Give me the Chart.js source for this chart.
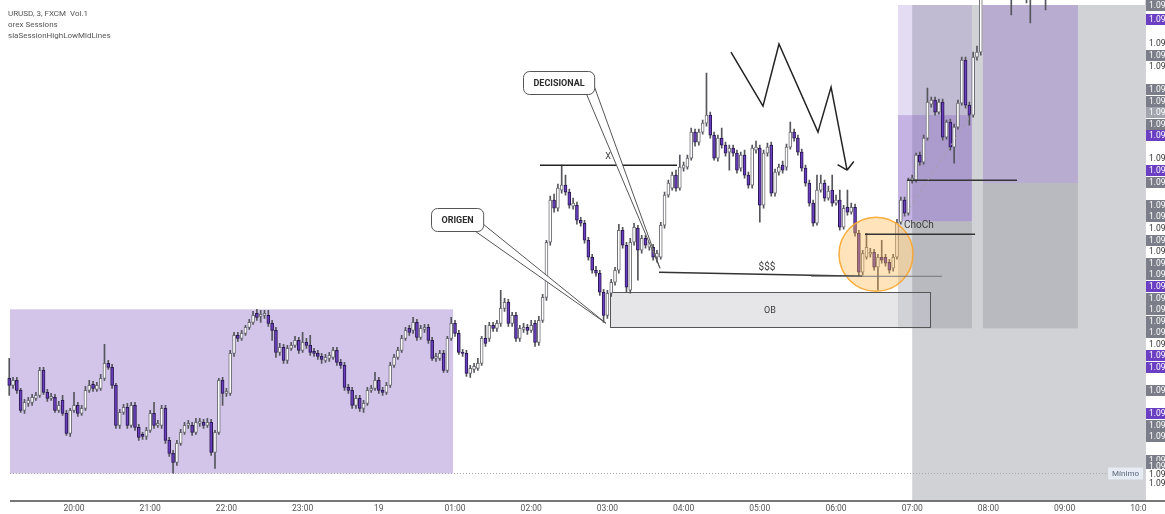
<!DOCTYPE html>
<html lang="es">
<head>
<meta charset="UTF-8">
<title>EURUSD 3m - sesiones</title>
<script src="https://cdn.jsdelivr.net/npm/chart.js@4.4.1/dist/chart.umd.min.js"></script>
<style>
  html, body { margin: 0; padding: 0; background: #fff; }
</style>
</head>
<body>
<canvas id="chart" width="1165" height="514"></canvas>
<script>
// 3 minute candles, time = minutes after 19:00 of the 18th
var interval = 3;
var firstCandle = 9;

// [open, high, low, close]
var candles = [
[1.09222,1.09242,1.09205,1.09215],[1.09215,1.09223,1.09212,1.09220],[1.09220,1.09223,1.09207,1.09210],[1.09210,1.09212,1.09188,1.09190],
[1.09190,1.09201,1.09187,1.09198],[1.09197,1.09203,1.09194,1.09200],[1.09198,1.09206,1.09195,1.09203],[1.09202,1.09208,1.09200,1.09205],
[1.09205,1.09233,1.09203,1.09230],[1.09230,1.09233,1.09206,1.09208],[1.09208,1.09211,1.09199,1.09202],[1.09202,1.09207,1.09200,1.09204],
[1.09203,1.09206,1.09188,1.09190],[1.09190,1.09199,1.09188,1.09195],[1.09200,1.09205,1.09185,1.09187],[1.09187,1.09190,1.09165,1.09167],
[1.09167,1.09192,1.09164,1.09190],[1.09190,1.09208,1.09188,1.09195],[1.09195,1.09198,1.09184,1.09187],[1.09187,1.09195,1.09185,1.09192],
[1.09192,1.09214,1.09190,1.09210],[1.09210,1.09220,1.09208,1.09215],[1.09216,1.09219,1.09209,1.09212],[1.09211,1.09218,1.09209,1.09215],
[1.09212,1.09226,1.09210,1.09222],[1.09222,1.09256,1.09220,1.09237],[1.09237,1.09240,1.09231,1.09233],[1.09233,1.09236,1.09212,1.09215],
[1.09215,1.09217,1.09172,1.09175],[1.09175,1.09191,1.09172,1.09188],[1.09188,1.09196,1.09186,1.09193],[1.09193,1.09197,1.09172,1.09175],
[1.09175,1.09198,1.09173,1.09195],[1.09195,1.09198,1.09170,1.09173],[1.09173,1.09176,1.09160,1.09163],[1.09166,1.09168,1.09161,1.09164],
[1.09164,1.09173,1.09161,1.09170],[1.09170,1.09190,1.09168,1.09187],[1.09187,1.09198,1.09172,1.09175],[1.09175,1.09180,1.09173,1.09177],
[1.09175,1.09195,1.09172,1.09192],[1.09192,1.09195,1.09157,1.09160],[1.09160,1.09163,1.09144,1.09147],[1.09147,1.09150,1.09127,1.09138],
[1.09138,1.09160,1.09135,1.09157],[1.09157,1.09171,1.09155,1.09168],[1.09168,1.09178,1.09166,1.09175],[1.09175,1.09180,1.09172,1.09177],
[1.09175,1.09178,1.09165,1.09168],[1.09168,1.09182,1.09166,1.09178],[1.09177,1.09182,1.09174,1.09179],[1.09178,1.09181,1.09172,1.09175],
[1.09175,1.09182,1.09173,1.09178],[1.09178,1.09181,1.09145,1.09148],[1.09148,1.09170,1.09132,1.09168],[1.09168,1.09222,1.09166,1.09220],
[1.09220,1.09223,1.09195,1.09207],[1.09207,1.09212,1.09204,1.09209],[1.09207,1.09250,1.09205,1.09247],[1.09247,1.09268,1.09244,1.09265],
[1.09265,1.09268,1.09259,1.09262],[1.09262,1.09270,1.09260,1.09267],[1.09267,1.09275,1.09265,1.09273],[1.09273,1.09281,1.09271,1.09278],
[1.09278,1.09289,1.09276,1.09285],[1.09287,1.09291,1.09280,1.09283],[1.09284,1.09290,1.09278,1.09286],[1.09285,1.09290,1.09282,1.09287],
[1.09285,1.09290,1.09274,1.09277],[1.09277,1.09280,1.09260,1.09270],[1.09270,1.09273,1.09243,1.09248],[1.09248,1.09257,1.09245,1.09253],
[1.09253,1.09256,1.09237,1.09240],[1.09240,1.09255,1.09237,1.09252],[1.09252,1.09258,1.09250,1.09255],[1.09255,1.09264,1.09253,1.09260],
[1.09260,1.09263,1.09247,1.09250],[1.09250,1.09268,1.09248,1.09258],[1.09258,1.09262,1.09252,1.09255],[1.09255,1.09265,1.09245,1.09248],
[1.09249,1.09252,1.09244,1.09247],[1.09247,1.09250,1.09241,1.09244],[1.09244,1.09247,1.09237,1.09241],[1.09240,1.09246,1.09238,1.09243],
[1.09242,1.09248,1.09239,1.09245],[1.09243,1.09253,1.09241,1.09250],[1.09250,1.09253,1.09235,1.09238],[1.09238,1.09241,1.09232,1.09235],
[1.09235,1.09238,1.09210,1.09213],[1.09213,1.09216,1.09207,1.09210],[1.09210,1.09213,1.09192,1.09195],[1.09195,1.09205,1.09192,1.09202],
[1.09202,1.09205,1.09189,1.09192],[1.09192,1.09200,1.09188,1.09197],[1.09197,1.09213,1.09195,1.09210],[1.09210,1.09215,1.09208,1.09212],
[1.09212,1.09228,1.09210,1.09220],[1.09220,1.09223,1.09207,1.09210],[1.09210,1.09213,1.09205,1.09208],[1.09208,1.09218,1.09206,1.09215],
[1.09215,1.09238,1.09213,1.09235],[1.09235,1.09246,1.09233,1.09243],[1.09243,1.09253,1.09241,1.09250],[1.09250,1.09265,1.09248,1.09262],
[1.09262,1.09273,1.09260,1.09270],[1.09272,1.09275,1.09265,1.09268],[1.09270,1.09283,1.09267,1.09278],[1.09278,1.09281,1.09260,1.09263],
[1.09263,1.09275,1.09261,1.09272],[1.09271,1.09276,1.09268,1.09273],[1.09273,1.09276,1.09257,1.09260],[1.09260,1.09263,1.09240,1.09242],
[1.09242,1.09247,1.09239,1.09244],[1.09242,1.09250,1.09240,1.09247],[1.09247,1.09250,1.09228,1.09230],[1.09230,1.09264,1.09228,1.09262],
[1.09262,1.09283,1.09260,1.09277],[1.09277,1.09280,1.09264,1.09267],[1.09267,1.09270,1.09246,1.09248],[1.09248,1.09251,1.09244,1.09247],
[1.09247,1.09250,1.09224,1.09227],[1.09227,1.09235,1.09223,1.09232],[1.09231,1.09237,1.09228,1.09234],[1.09232,1.09242,1.09230,1.09237],
[1.09237,1.09264,1.09235,1.09262],[1.09262,1.09275,1.09254,1.09257],[1.09262,1.09278,1.09259,1.09275],[1.09275,1.09278,1.09269,1.09272],
[1.09272,1.09280,1.09269,1.09277],[1.09277,1.09310,1.09274,1.09292],[1.09292,1.09302,1.09289,1.09298],[1.09298,1.09301,1.09274,1.09277],
[1.09277,1.09288,1.09274,1.09285],[1.09285,1.09288,1.09259,1.09262],[1.09262,1.09275,1.09259,1.09272],[1.09271,1.09277,1.09268,1.09273],
[1.09273,1.09276,1.09266,1.09270],[1.09270,1.09280,1.09268,1.09275],[1.09277,1.09280,1.09254,1.09258],[1.09258,1.09284,1.09255,1.09280],
[1.09280,1.09306,1.09278,1.09303],[1.09303,1.09360,1.09300,1.09358],[1.09358,1.09404,1.09355,1.09400],[1.09400,1.09406,1.09388,1.09392],
[1.09392,1.09416,1.09389,1.09412],[1.09410,1.09435,1.09407,1.09415],[1.09415,1.09425,1.09405,1.09408],[1.09408,1.09411,1.09392,1.09395],
[1.09394,1.09402,1.09391,1.09397],[1.09395,1.09398,1.09376,1.09380],[1.09380,1.09383,1.09374,1.09377],[1.09377,1.09380,1.09357,1.09360],
[1.09360,1.09363,1.09340,1.09343],[1.09343,1.09346,1.09327,1.09330],[1.09330,1.09334,1.09324,1.09327],[1.09327,1.09330,1.09305,1.09308],
[1.09308,1.09311,1.09278,1.09285],[1.09285,1.09310,1.09282,1.09307],[1.09307,1.09321,1.09304,1.09318],[1.09318,1.09333,1.09315,1.09330],
[1.09330,1.09376,1.09327,1.09370],[1.09370,1.09373,1.09352,1.09355],[1.09355,1.09358,1.09308,1.09313],[1.09310,1.09362,1.09307,1.09358],
[1.09358,1.09377,1.09355,1.09373],[1.09372,1.09375,1.09320,1.09350],[1.09350,1.09365,1.09347,1.09362],[1.09362,1.09365,1.09352,1.09355],
[1.09353,1.09361,1.09350,1.09358],[1.09353,1.09356,1.09340,1.09343],[1.09343,1.09350,1.09338,1.09347],[1.09343,1.09378,1.09341,1.09375],
[1.09375,1.09408,1.09372,1.09405],[1.09405,1.09420,1.09403,1.09417],[1.09412,1.09428,1.09410,1.09425],[1.09425,1.09430,1.09409,1.09412],
[1.09412,1.09445,1.09410,1.09433],[1.09432,1.09438,1.09429,1.09435],[1.09433,1.09445,1.09431,1.09442],[1.09442,1.09472,1.09440,1.09468],
[1.09468,1.09471,1.09454,1.09458],[1.09458,1.09471,1.09455,1.09468],[1.09468,1.09480,1.09466,1.09477],[1.09477,1.09527,1.09474,1.09485],
[1.09485,1.09488,1.09462,1.09465],[1.09465,1.09468,1.09440,1.09442],[1.09442,1.09465,1.09439,1.09462],[1.09462,1.09472,1.09452,1.09455],
[1.09455,1.09458,1.09444,1.09447],[1.09448,1.09455,1.09430,1.09452],[1.09452,1.09455,1.09444,1.09447],[1.09447,1.09450,1.09427,1.09430],
[1.09432,1.09448,1.09429,1.09445],[1.09445,1.09450,1.09422,1.09425],[1.09425,1.09428,1.09412,1.09415],[1.09415,1.09455,1.09412,1.09452],
[1.09450,1.09459,1.09447,1.09453],[1.09452,1.09455,1.09378,1.09395],[1.09395,1.09450,1.09392,1.09447],[1.09447,1.09457,1.09444,1.09453],
[1.09455,1.09458,1.09404,1.09407],[1.09407,1.09431,1.09404,1.09428],[1.09428,1.09436,1.09425,1.09433],[1.09435,1.09439,1.09427,1.09430],
[1.09433,1.09456,1.09430,1.09453],[1.09453,1.09478,1.09451,1.09468],[1.09468,1.09471,1.09459,1.09462],[1.09462,1.09465,1.09445,1.09448],
[1.09448,1.09451,1.09429,1.09432],[1.09432,1.09435,1.09414,1.09417],[1.09417,1.09420,1.09394,1.09397],[1.09397,1.09400,1.09374,1.09377],
[1.09377,1.09425,1.09375,1.09410],[1.09410,1.09425,1.09408,1.09417],[1.09417,1.09420,1.09399,1.09402],[1.09402,1.09414,1.09400,1.09409],
[1.09410,1.09425,1.09394,1.09397],[1.09397,1.09405,1.09395,1.09400],[1.09400,1.09410,1.09370,1.09373],[1.09373,1.09395,1.09371,1.09392],
[1.09393,1.09410,1.09385,1.09388],[1.09388,1.09397,1.09386,1.09393],[1.09393,1.09396,1.09364,1.09367],[1.09367,1.09370,1.09324,1.09328],
[1.09328,1.09350,1.09325,1.09347],[1.09343,1.09367,1.09341,1.09353],[1.09346,1.09352,1.09343,1.09348],[1.09348,1.09351,1.09330,1.09333],
[1.09333,1.09346,1.09310,1.09343],[1.09343,1.09360,1.09337,1.09340],[1.09343,1.09346,1.09334,1.09337],[1.09338,1.09341,1.09327,1.09330],
[1.09332,1.09346,1.09329,1.09343],[1.09343,1.09381,1.09341,1.09378],[1.09378,1.09403,1.09376,1.09400],[1.09400,1.09403,1.09384,1.09387],
[1.09387,1.09422,1.09385,1.09420],[1.09419,1.09425,1.09417,1.09422],[1.09420,1.09447,1.09418,1.09445],[1.09445,1.09448,1.09435,1.09438],
[1.09438,1.09465,1.09436,1.09462],[1.09462,1.09512,1.09460,1.09498],[1.09496,1.09503,1.09493,1.09500],[1.09500,1.09503,1.09485,1.09488],
[1.09488,1.09501,1.09486,1.09498],[1.09498,1.09501,1.09460,1.09463],[1.09463,1.09480,1.09461,1.09478],[1.09478,1.09481,1.09450,1.09453],
[1.09453,1.09476,1.09437,1.09473],[1.09473,1.09500,1.09471,1.09497],[1.09497,1.09543,1.09495,1.09540],[1.09540,1.09543,1.09492,1.09495],
[1.09495,1.09498,1.09475,1.09485],[1.09485,1.09548,1.09483,1.09543],[1.09543,1.09554,1.09540,1.09548],[1.09548,1.09625,1.09545,1.09620],
[1.09620,1.09650,1.09618,1.09645],[1.09645,1.09670,1.09642,1.09665],[1.09665,1.09672,1.09640,1.09648],[1.09648,1.09680,1.09645,1.09675],
[1.09675,1.09682,1.09652,1.09655],[1.09655,1.09690,1.09650,1.09685],[1.09685,1.09692,1.09655,1.09660],[1.09660,1.09665,1.09585,1.09620],
[1.09620,1.09660,1.09615,1.09655],[1.09655,1.09680,1.09650,1.09675],[1.09675,1.09678,1.09645,1.09650],[1.09650,1.09670,1.09597,1.09665],
[1.09665,1.09670,1.09577,1.09625],[1.09625,1.09660,1.09620,1.09655],[1.09655,1.09685,1.09650,1.09680],[1.09680,1.09685,1.09645,1.09650],
[1.09650,1.09655,1.09590,1.09620]
];

var hourTicks = [60, 120, 180, 240, 300, 360, 420, 480, 540, 600, 660, 720, 780, 840, 900];
var hourLabels = ['20:00', '21:00', '22:00', '23:00', '19', '01:00', '02:00', '03:00', '04:00', '05:00', '06:00', '07:00', '08:00', '09:00', '10:00'];

// price scale tags on the right edge (p = purple, g = gray, l = light gray, w = white)
var tagPrices = [1.09595, 1.09581, 1.09557, 1.09545, 1.09534, 1.09511, 1.09499, 1.09488, 1.09476, 1.09465,
                 1.09442, 1.09430, 1.09418, 1.09395, 1.09384, 1.09372, 1.09360, 1.09349, 1.09337, 1.09326,
                 1.09314, 1.09302, 1.09291, 1.09279, 1.09268, 1.09256, 1.09245, 1.09233, 1.09210, 1.09187,
                 1.09175, 1.09164, 1.09140, 1.09134, 1.09126, 1.09117];
var tagKinds = ['g','p','w','g','w','g','g','l','g','p',
                'w','p','g','g','g','w','g','w','g','g',
                'p','g','g','g','g','w','p','p','g','p',
                'g','g','g','g','w','w'];

// Asia session window (19:00 - 01:00)
var sessionWindow = [0, 360];

// drawings, in chart units (minutes, price)
var zones = [
  { t0: 720,   t1: null,  lo: null,    hi: 1.09595, kind: 'gray' },
  { t0: 708.8, t1: 767,   lo: 1.09485, hi: 1.09595, kind: 'lilac' },
  { t0: 708.8, t1: 767,   lo: 1.09379, hi: 1.09485, kind: 'violet' },
  { t0: 708.8, t1: 767,   lo: 1.09272, hi: 1.09379, kind: 'dark' },
  { t0: 775.7, t1: 850.5, lo: 1.09417, hi: 1.09595, kind: 'purple' },
  { t0: 775.7, t1: 850.5, lo: 1.09272, hi: 1.09417, kind: 'dark' }
];
var orderBlock = { t0: 482, t1: 734, lo: 1.09273, hi: 1.09308 };
var levels = [
  { t0: 426.9, p0: 1.09435, t1: 534.8, p1: 1.09435, c: '#222', w: 1.5 },
  { t0: 520.6, p0: 1.09328, t1: 680.5, p1: 1.09324, c: '#333', w: 1.5 },
  { t0: 640.3, p0: 1.09324, t1: 743.5, p1: 1.09324, c: '#777', w: 1 },
  { t0: 682.8, p0: 1.09366, t1: 769.5, p1: 1.09366, c: '#333', w: 1.5 },
  { t0: 715.9, p0: 1.09420, t1: 802.5, p1: 1.09420, c: '#333', w: 1.5 }
];
var dashedLeg = [[714.3, 1.09385], [767.1, 1.09487]];
var zigzag = [[577.3, 1.09548], [602.5, 1.09494], [615.1, 1.09556], [645.8, 1.09468], [656.1, 1.09513], [668.7, 1.09430]];
var focus = [691.5, 1.09346];
var labels = [
  { text: 'X',     t: 480.5, p: 1.09443, size: 9,  align: 'center' },
  { text: '$$$',   t: 605.7, p: 1.09333, size: 10, align: 'center' },
  { text: 'OB',    t: 608,   p: 1.09290, size: 9,  align: 'center' },
  { text: 'ChoCh', t: 713.5, p: 1.09375, size: 10, align: 'left' }
];
var callouts = [
  { text: 'ORIGEN',     tip: [478.9, 1.09277], at: [362.0, 1.093805] },
  { text: 'DECISIONAL', tip: [521.4, 1.09332], at: [441.9, 1.095175] }
];

var candleTimes = candles.map(function (c, i) { return firstCandle + i * interval; });
var isUp = candles.map(function (c) { return c[3] >= c[0]; });

function roundRect(ctx, x, y, w, h, r) {
  ctx.beginPath();
  ctx.moveTo(x + r, y);
  ctx.arcTo(x + w, y, x + w, y + h, r);
  ctx.arcTo(x + w, y + h, x, y + h, r);
  ctx.arcTo(x, y + h, x, y, r);
  ctx.arcTo(x, y, x + w, y, r);
  ctx.closePath();
}

var drawings = {
  id: 'drawings',
  beforeDatasetsDraw: function (chart) {
    var ctx = chart.ctx, area = chart.chartArea;
    var X = function (t) { return chart.scales.x.getPixelForValue(t); };
    var Y = function (p) { return chart.scales.y.getPixelForValue(p); };
    ctx.save();

    // session high / low box
    var hi = -Infinity, lo = Infinity, last = 0;
    candles.forEach(function (c, i) {
      var t = candleTimes[i];
      if (t >= sessionWindow[0] && t < sessionWindow[1]) {
        hi = Math.max(hi, c[1]); lo = Math.min(lo, c[2]); last = t;
      }
    });
    chart.$sessionLow = lo;
    ctx.fillStyle = 'rgba(149,117,205,0.42)';
    ctx.fillRect(area.left, Y(hi), X(last + interval / 2) - area.left, Y(lo) - Y(hi));

    var fills = {
      gray: 'rgba(120,123,134,0.34)',
      lilac: 'rgba(149,117,205,0.25)',
      violet: 'rgba(126,87,194,0.45)',
      purple: 'rgba(126,87,194,0.30)',
      dark: 'rgba(120,123,134,0.27)'
    };
    zones.forEach(function (z) {
      var x0 = X(z.t0), x1 = z.t1 === null ? area.right : X(z.t1);
      var y0 = Y(z.hi), y1 = z.lo === null ? area.bottom : Y(z.lo);
      ctx.fillStyle = fills[z.kind];
      ctx.fillRect(x0, y0, x1 - x0, y1 - y0);
    });

    // order block
    var bx = Math.round(X(orderBlock.t0)) + 0.5, by = Math.round(Y(orderBlock.hi)) + 0.5;
    var bw = Math.round(X(orderBlock.t1) - X(orderBlock.t0)), bh = Math.round(Y(orderBlock.lo) - Y(orderBlock.hi));
    ctx.fillStyle = 'rgba(200,200,206,0.45)';
    ctx.fillRect(bx, by, bw, bh);
    ctx.strokeStyle = '#555';
    ctx.lineWidth = 1;
    ctx.strokeRect(bx, by, bw, bh);
    ctx.restore();
  },

  afterDatasetsDraw: function (chart) {
    var ctx = chart.ctx, area = chart.chartArea;
    var X = function (t) { return chart.scales.x.getPixelForValue(t); };
    var Y = function (p) { return chart.scales.y.getPixelForValue(p); };
    ctx.save();

    // orange circle
    ctx.beginPath();
    ctx.arc(X(focus[0]), Y(focus[1]), 37, 0, Math.PI * 2);
    ctx.fillStyle = 'rgba(255,183,77,0.38)';
    ctx.fill();
    ctx.strokeStyle = 'rgba(250,165,45,0.9)';
    ctx.lineWidth = 1.5;
    ctx.stroke();

    // horizontal levels
    levels.forEach(function (l) {
      ctx.beginPath();
      ctx.moveTo(X(l.t0), Y(l.p0));
      ctx.lineTo(X(l.t1), Y(l.p1));
      ctx.strokeStyle = l.c;
      ctx.lineWidth = l.w;
      ctx.stroke();
    });

    ctx.beginPath();
    ctx.setLineDash([4, 3]);
    ctx.moveTo(X(dashedLeg[0][0]), Y(dashedLeg[0][1]));
    ctx.lineTo(X(dashedLeg[1][0]), Y(dashedLeg[1][1]));
    ctx.strokeStyle = '#a0a0a8';
    ctx.lineWidth = 1;
    ctx.stroke();
    ctx.setLineDash([]);

    // session low (Minimo) dotted line
    var ly = Math.round(Y(chart.$sessionLow)) + 0.5;
    ctx.beginPath();
    ctx.setLineDash([1, 2]);
    ctx.moveTo(area.left, ly);
    ctx.lineTo(area.right - 34, ly);
    ctx.strokeStyle = '#a8a8a8';
    ctx.stroke();
    ctx.setLineDash([]);
    ctx.font = '8px Roboto';
    var mw = ctx.measureText('Mínimo').width + 8;
    ctx.fillStyle = '#e6ecf4';
    ctx.fillRect(area.right - mw - 2, ly - 6, mw, 12);
    ctx.fillStyle = '#5b6678';
    ctx.textAlign = 'left';
    ctx.textBaseline = 'middle';
    ctx.fillText('Mínimo', area.right - mw + 2, ly);

    // hand drawn zigzag with arrow
    var pts = zigzag.map(function (p) { return [X(p[0]), Y(p[1])]; });
    ctx.beginPath();
    pts.forEach(function (p, i) { if (i) ctx.lineTo(p[0], p[1]); else ctx.moveTo(p[0], p[1]); });
    var tip = pts[pts.length - 1], prev = pts[pts.length - 2];
    var ang = Math.atan2(tip[1] - prev[1], tip[0] - prev[0]);
    [-1, 1].forEach(function (s) {
      ctx.moveTo(tip[0], tip[1]);
      ctx.lineTo(tip[0] - 11 * Math.cos(ang + s * 0.85), tip[1] - 11 * Math.sin(ang + s * 0.85));
    });
    ctx.strokeStyle = '#222';
    ctx.lineWidth = 1.5;
    ctx.stroke();

    // text labels
    labels.forEach(function (l) {
      ctx.font = l.size + 'px Roboto';
      ctx.fillStyle = '#3a3a3a';
      ctx.textAlign = l.align;
      ctx.textBaseline = 'middle';
      ctx.fillText(l.text, X(l.t), Y(l.p));
    });

    // callouts
    callouts.forEach(function (c) {
      ctx.font = 'bold 9px Roboto';
      var w = ctx.measureText(c.text).width + 20, h = 23;
      var cx = X(c.at[0]), cy = Y(c.at[1]);
      var left = Math.round(cx - w / 2) + 0.5, top = Math.round(cy - h / 2) + 0.5;
      var tx = X(c.tip[0]), ty = Y(c.tip[1]);
      ctx.beginPath();
      ctx.moveTo(left + w - 8, top + h);
      ctx.lineTo(tx, ty);
      ctx.lineTo(left + w, top + h - 7);
      ctx.fillStyle = '#fff';
      ctx.fill();
      ctx.strokeStyle = '#555';
      ctx.lineWidth = 1;
      ctx.stroke();
      roundRect(ctx, left, top, w, h, 6);
      ctx.fillStyle = '#fff';
      ctx.fill();
      ctx.stroke();
      ctx.fillStyle = '#2b2b2b';
      ctx.textAlign = 'center';
      ctx.textBaseline = 'middle';
      ctx.fillText(c.text, left + w / 2, top + h / 2 + 0.5);
    });
    ctx.restore();
  },

  afterDraw: function (chart) {
    var ctx = chart.ctx, area = chart.chartArea;
    var Y = function (p) { return chart.scales.y.getPixelForValue(p); };
    ctx.save();

    // price scale column
    ctx.fillStyle = '#fff';
    ctx.fillRect(area.right + 1, 0, chart.width - area.right, chart.height);
    ctx.beginPath();
    ctx.moveTo(area.right + 0.5, 0);
    ctx.lineTo(area.right + 0.5, area.bottom);
    ctx.strokeStyle = '#d4d4d8';
    ctx.lineWidth = 1;
    ctx.stroke();
    var tagBg = { p: '#6a3fc1', g: '#7b7e88', l: '#a2a5ad', w: '#ffffff' };
    ctx.font = '8.5px Roboto';
    ctx.textAlign = 'left';
    ctx.textBaseline = 'middle';
    tagPrices.forEach(function (p, i) {
      var y = Math.round(Y(p));
      ctx.fillStyle = tagBg[tagKinds[i]];
      ctx.fillRect(area.right + 1, y - 5, 40, 11);
      ctx.fillStyle = tagKinds[i] === 'w' ? '#333' : '#fff';
      ctx.fillText(p.toFixed(5), area.right + 4, y + 0.5);
    });

    // time axis line
    ctx.beginPath();
    ctx.moveTo(area.left, area.bottom + 0.5);
    ctx.lineTo(chart.width, area.bottom + 0.5);
    ctx.strokeStyle = '#4a4a4a';
    ctx.lineWidth = 1.5;
    ctx.stroke();

    // indicator legend
    ctx.font = '8px Roboto';
    ctx.fillStyle = '#555';
    ctx.fillText('URUSD, 3, FXCM  Vol.1', 8, 14);
    ctx.fillText('orex Sessions', 8, 25);
    ctx.fillText('siaSessionHighLowMidLines', 8, 36);
    ctx.restore();
  }
};

var ctx = document.getElementById('chart').getContext('2d');
var chart = new Chart(ctx, {
  type: 'bar',
  data: {
    datasets: [
      {
        label: 'body',
        data: candles.map(function (c, i) { return { x: candleTimes[i], y: [c[0], c[3]] }; }),
        backgroundColor: isUp.map(function (u) { return u ? '#ffffff' : '#6a3fc1'; }),
        borderColor: isUp.map(function (u) { return u ? '#6e6e76' : '#2a1850'; }),
        borderWidth: 1,
        borderSkipped: false,
        barThickness: 3,
        grouped: false,
        clip: { left: 5, top: 0, right: 0, bottom: 0 },
        order: 1
      },
      {
        label: 'wick',
        data: candles.map(function (c, i) { return { x: candleTimes[i], y: [c[2], c[1]] }; }),
        backgroundColor: '#55555c',
        barThickness: 1,
        grouped: false,
        clip: { left: 5, top: 0, right: 0, bottom: 0 },
        order: 2
      }
    ]
  },
  options: {
    responsive: false,
    animation: false,
    devicePixelRatio: 1,
    layout: { padding: { left: 10, right: 20, top: 0, bottom: -3 } },
    plugins: { legend: { display: false }, tooltip: { enabled: false } },
    scales: {
      x: {
        type: 'linear',
        offset: false,
        min: 9.6,
        max: 903.3,
        grid: { display: false, drawTicks: false },
        border: { display: false },
        afterBuildTicks: function (scale) {
          scale.ticks = hourTicks.map(function (v) { return { value: v }; });
        },
        ticks: {
          autoSkip: false,
          maxRotation: 0,
          padding: 4,
          color: '#555',
          font: { family: 'Roboto', size: 8.5, lineHeight: 1 },
          callback: function (v) {
            var i = hourTicks.indexOf(v);
            return i < 0 ? '' : hourLabels[i];
          }
        }
      },
      y: { min: 1.091, max: 1.096, display: false }
    }
  },
  plugins: [drawings]
});
</script>
</body>
</html>
